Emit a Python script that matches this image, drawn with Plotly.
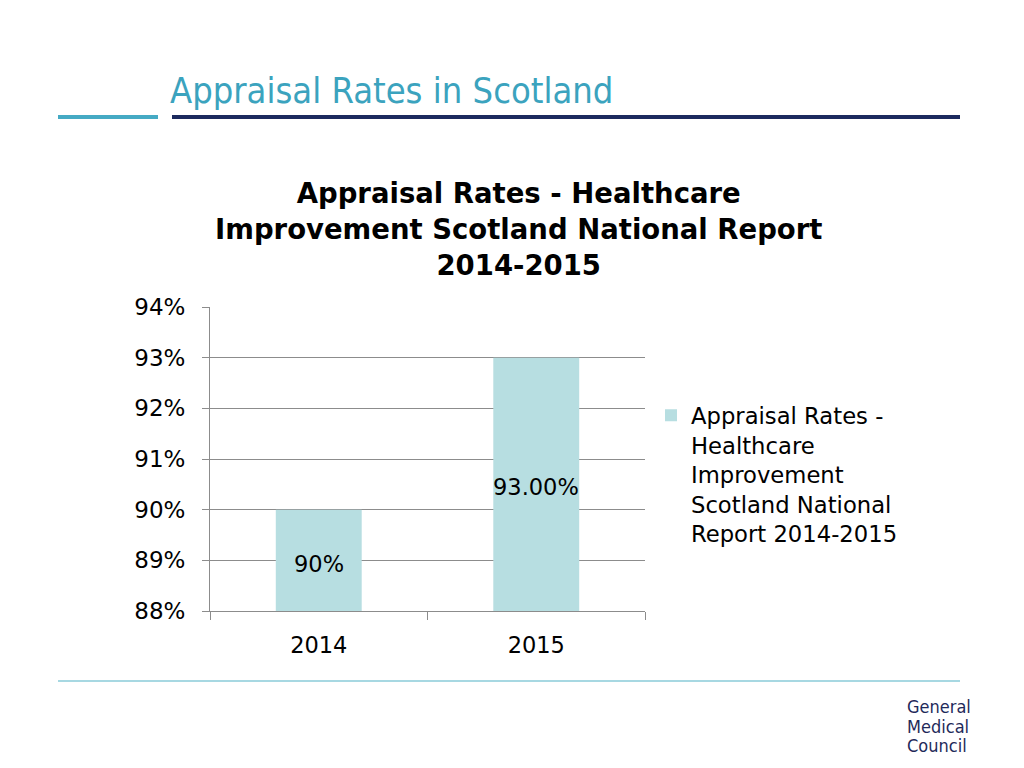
import plotly.graph_objects as go

categories = ["2014", "2015"]
values = [0.90, 0.93]
value_labels = ["90%", "93.00%"]
label_y = [0.8893, 0.9045]
legend_label = "Appraisal Rates -<br>Healthcare<br>Improvement<br>Scotland National<br>Report 2014-2015"
chart_title = "Appraisal Rates - Healthcare<br>Improvement Scotland National Report<br>2014-2015"
slide_title = "Appraisal Rates in Scotland"
logo_lines = ["General", "Medical", "Council"]
y_range = [0.88, 0.94]

W, H = 1024, 768
def px(x):
    return x / W
def py(y):
    return 1 - y / H

FONT = "DejaVu Sans"
fig = go.Figure()
fig.add_trace(go.Bar(
    x=categories, y=values, name=legend_label,
    marker=dict(color="#B7DEE1", line=dict(width=0)),
    width=0.395, showlegend=True,
))

for i, (t, ly) in enumerate(zip(value_labels, label_y)):
    fig.add_annotation(x=i, y=ly, xref="x", yref="y", text=t, showarrow=False,
                       font=dict(family=FONT, size=22.5, color="#000000"))

fig.update_layout(
    width=W, height=H,
    margin=dict(l=0, r=0, t=0, b=0, autoexpand=False),
    paper_bgcolor="white", plot_bgcolor="white",
    font=dict(family=FONT, size=22, color="#000000"),
    xaxis=dict(type="category", range=[-0.5, len(categories) - 0.5], domain=[px(210), px(645)],
               showline=True, linecolor="#8c8c8c", linewidth=1,
               ticks="outside", ticklen=8, tickcolor="#8c8c8c", tickson="boundaries",
               ticklabelstandoff=14,
               showgrid=False, automargin=False, tickangle=0, tickfont=dict(size=22.5, family=FONT)),
    yaxis=dict(domain=[py(611), py(307)], range=y_range, dtick=0.01, tickformat=".0%",
               showline=True, linecolor="#8c8c8c", linewidth=1, ticks="outside", ticklen=7,
               tickcolor="#8c8c8c", showgrid=True, gridcolor="#8c8c8c", gridwidth=1,
               ticklabelstandoff=12,
               zeroline=False, automargin=False, tickfont=dict(size=23, family=FONT)),
    legend=dict(x=px(651), y=py(394), xanchor="left", yanchor="top", valign="top",
                font=dict(family=FONT, size=22.7, color="#000000"), bgcolor="rgba(0,0,0,0)",
                itemsizing="constant"),
    showlegend=True,
)

fig.add_annotation(x=px(518), y=py(229), xref="paper", yref="paper", text="<b>" + chart_title + "</b>",
                   showarrow=False, xanchor="center", yanchor="middle", align="center",
                   font=dict(family=FONT, size=27.5, color="#000000"))
fig.add_annotation(x=px(168), y=py(90), xref="paper", yref="paper", text=slide_title,
                   showarrow=False, xanchor="left", yanchor="middle",
                   font=dict(family="DejaVu Sans Condensed", size=36, color="#3BA3BE"))
for line, ypix in zip(logo_lines, [706, 726, 745]):
    fig.add_annotation(x=px(905), y=py(ypix), xref="paper", yref="paper",
                       text=line, showarrow=False, xanchor="left",
                       yanchor="middle", align="left",
                       font=dict(family="DejaVu Sans Condensed", size=18, color="#1F2A5A"))

fig.add_shape(type="line", xref="paper", yref="paper", x0=px(58), x1=px(158), y0=py(117), y1=py(117),
              line=dict(color="#45AAC4", width=4))
fig.add_shape(type="line", xref="paper", yref="paper", x0=px(172), x1=px(960), y0=py(117), y1=py(117),
              line=dict(color="#1C2A5E", width=4))
fig.add_shape(type="line", xref="paper", yref="paper", x0=px(58), x1=px(960), y0=py(681), y1=py(681),
              line=dict(color="#8ACBD8", width=1.5))

fig.write_html("out.html", config={"displayModeBar": False},
               post_script="document.body.style.margin='0';")
